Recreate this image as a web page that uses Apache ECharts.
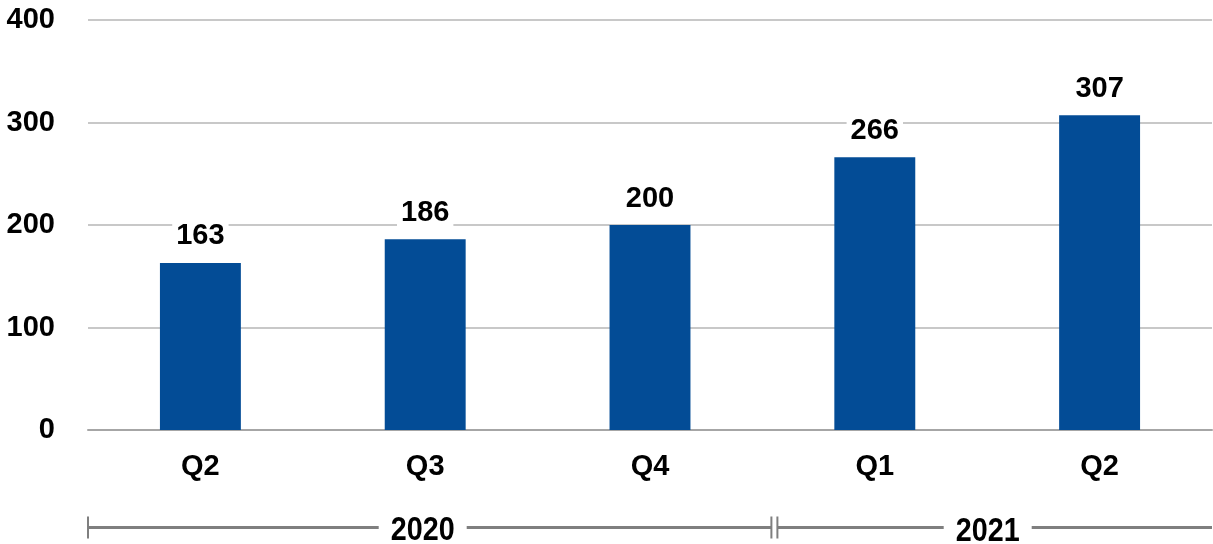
<!DOCTYPE html>
<html><head><meta charset="utf-8">
<script src="https://cdn.jsdelivr.net/npm/echarts@6/dist/echarts.min.js"></script>
<style>html,body{margin:0;padding:0;background:#fff}#c{width:1213px;height:544px}</style>
</head><body><div id="c"></div>
<script>
const categories = ['Q2', 'Q3', 'Q4', 'Q1', 'Q2'];
const values = [163, 186, 200, 266, 307];
const yTicks = [0, 100, 200, 300, 400];
const years = ['2020', '2021'];
const yearSpans = [[0, 2], [3, 4]];

const chart = echarts.init(document.getElementById('c'));
const font = '"Liberation Sans", Arial, sans-serif';
chart.setOption({
  animation: false,
  grid: { left: 88, right: 1, top: 20, bottom: 114 },
  xAxis: {
    type: 'category', data: categories,
    axisLine: { lineStyle: { color: '#a6a6a6', width: 2 } },
    axisTick: { length: 8, lineStyle: { color: '#a6a6a6', width: 2 } },
    axisLabel: { margin: 22, color: '#000', fontWeight: 'bold', fontSize: 29, fontFamily: font }
  },
  yAxis: {
    type: 'value', min: yTicks[0], max: yTicks[yTicks.length - 1], interval: 100,
    axisLine: { show: false }, axisTick: { show: false },
    splitLine: { lineStyle: { color: '#c8c8c8', width: 2 } },
    axisLabel: { margin: 33, color: '#000', fontWeight: 'bold', fontSize: 29, fontFamily: font }
  },
  series: [{
    type: 'bar', data: values, barWidth: '36%',
    itemStyle: { color: '#034c96' },
    label: { show: true, position: 'top', distance: 12, padding: [2, 4, 0, 4], backgroundColor: '#fff',
      color: '#000', fontWeight: 'bold', fontSize: 29, fontFamily: font }
  }]
});

function drawBrackets() {
  const x0 = chart.convertToPixel({ xAxisIndex: 0 }, 0);
  const x1 = chart.convertToPixel({ xAxisIndex: 0 }, 1);
  const step = x1 - x0;
  const lineY = 527.5;
  const gray = '#7f7f7f';
  const els = [];
  yearSpans.forEach((span, i) => {
    let l = chart.convertToPixel({ xAxisIndex: 0 }, span[0]) - step / 2;
    let r = chart.convertToPixel({ xAxisIndex: 0 }, span[1]) + step / 2;
    if (i > 0) l += 15;
    if (i < yearSpans.length - 1) r += 9;
    const cx = (l + r) / 2 - 7;
    const halfGap = 44;
    els.push({ type: 'line', shape: { x1: l, y1: lineY, x2: cx - halfGap, y2: lineY }, style: { stroke: gray, lineWidth: 3 } });
    els.push({ type: 'line', shape: { x1: cx + halfGap, y1: lineY, x2: r, y2: lineY }, style: { stroke: gray, lineWidth: 3 } });
    els.push({ type: 'line', shape: { x1: l, y1: lineY - 11, x2: l, y2: lineY + 11 }, style: { stroke: gray, lineWidth: 2 } });
    if (i < yearSpans.length - 1) els.push({ type: 'line', shape: { x1: r, y1: lineY - 11, x2: r, y2: lineY + 11 }, style: { stroke: gray, lineWidth: 2 } });
    els.push({ type: 'text', x: cx, y: lineY + 3 + i * 1.5, scaleX: 0.87,
      style: { text: years[i], fill: '#000', font: 'bold 33px "Liberation Sans", Arial, sans-serif', align: 'center', verticalAlign: 'middle' } });
  });
  chart.setOption({ graphic: els });
}
drawBrackets();
</script></body></html>
